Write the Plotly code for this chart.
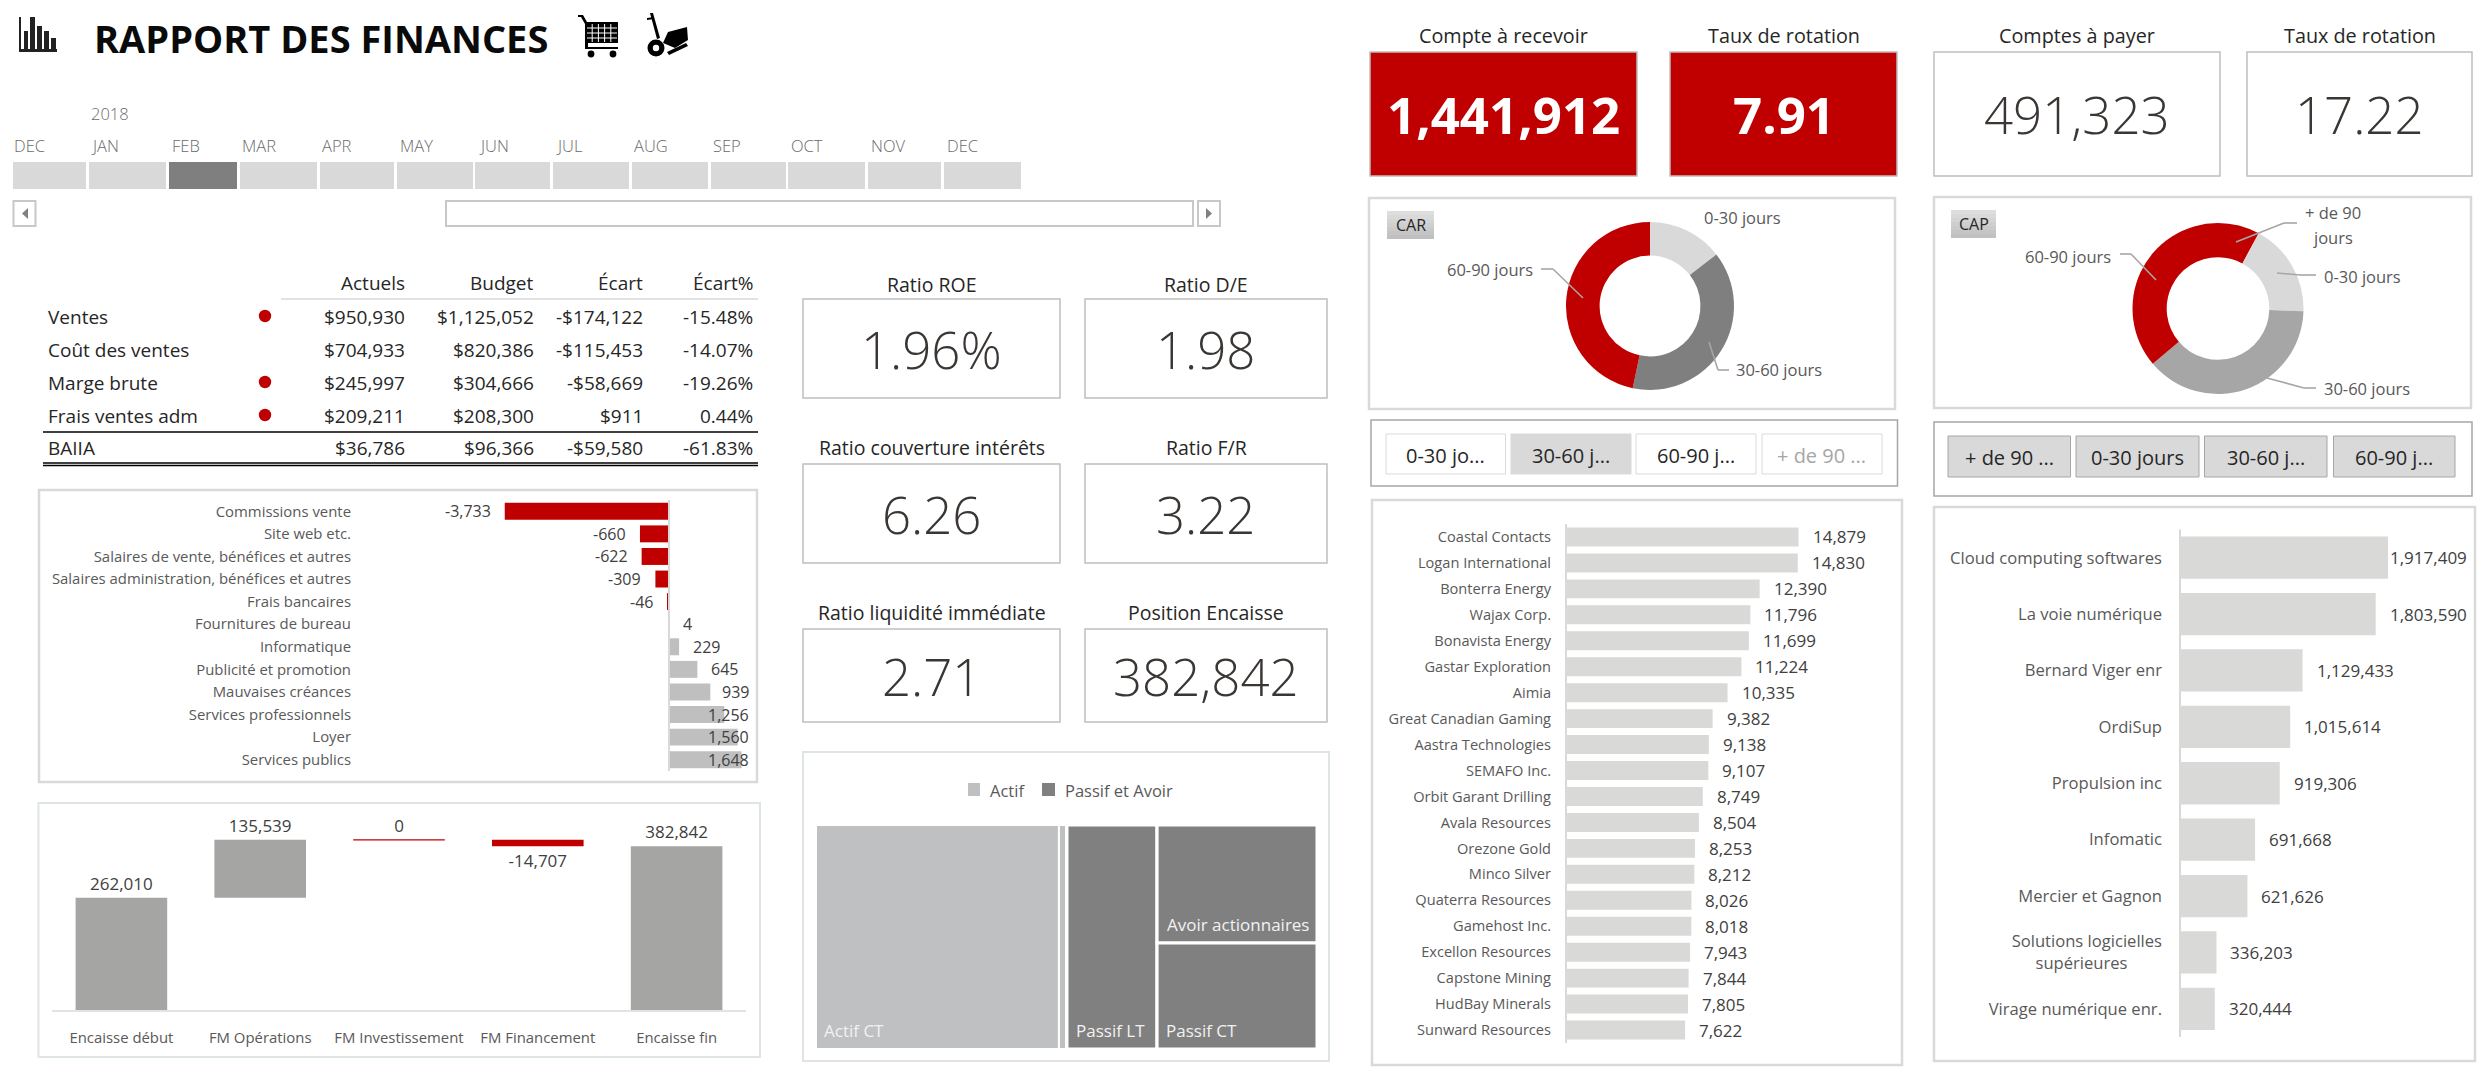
import plotly.graph_objects as go

W, H = 2492, 1080
FONT = "Open Sans"
RED = "#c00000"

# ------------------ data ------------------
months = ["DEC", "JAN", "FEB", "MAR", "APR", "MAY", "JUN", "JUL", "AUG", "SEP", "OCT", "NOV", "DEC"]
selected_month = 2
table_rows = ["Ventes", "Coût des ventes", "Marge brute", "Frais ventes adm", "BAIIA"]
table_actual = [950930, 704933, 245997, 209211, 36786]
table_budget = [1125052, 820386, 304666, 208300, 96366]
table_gap = [-174122, -115453, -58669, 911, -59580]
table_gap_pct = [-15.48, -14.07, -19.26, 0.44, -61.83]
table_flag = [True, False, True, True, False]

cost_cats = ["Commissions vente", "Site web etc.", "Salaires de vente, bénéfices et autres",
             "Salaires administration, bénéfices et autres", "Frais bancaires", "Fournitures de bureau",
             "Informatique", "Publicité et promotion", "Mauvaises créances", "Services professionnels",
             "Loyer", "Services publics"]
cost_vals = [-3733, -660, -622, -309, -46, 4, 229, 645, 939, 1256, 1560, 1648]

flow_cats = ["Encaisse début", "FM Opérations", "FM Investissement", "FM Financement", "Encaisse fin"]
flow_vals = [262010, 135539, 0, -14707, 382842]
flow_base = [0, 262010, 397549, 397549, 0]

ratio_titles = ["Ratio ROE", "Ratio D/E", "Ratio couverture intérêts", "Ratio F/R",
                "Ratio liquidité immédiate", "Position Encaisse"]
ratio_values = ["1.96%", "1.98", "6.26", "3.22", "2.71", "382,842"]

kpi_titles = ["Compte à recevoir", "Taux de rotation", "Comptes à payer", "Taux de rotation"]
kpi_values = ["1,441,912", "7.91", "491,323", "17.22"]
kpi_alert = [True, True, False, False]

car_labels = ["0-30 jours", "30-60 jours", "60-90 jours"]
car_vals = [14.5, 38.8, 46.7]
car_colors = ["#d9d9d9", "#7f7f7f", RED]
cap_labels = ["+ de 90 jours", "0-30 jours", "30-60 jours", "60-90 jours"]
cap_vals = [7.9, 17.6, 38.3, 36.2]
cap_colors = [RED, "#d9d9d9", "#a6a6a6", RED]

car_buttons = ["0-30 jo...", "30-60 j...", "60-90 j...", "+ de 90 ..."]
cap_buttons = ["+ de 90 ...", "0-30 jours", "30-60 j...", "60-90 j..."]

client_cats = ["Coastal Contacts", "Logan International", "Bonterra Energy", "Wajax Corp.", "Bonavista Energy",
               "Gastar Exploration", "Aimia", "Great Canadian Gaming", "Aastra Technologies", "SEMAFO Inc.",
               "Orbit Garant Drilling", "Avala Resources", "Orezone Gold", "Minco Silver", "Quaterra Resources",
               "Gamehost Inc.", "Excellon Resources", "Capstone Mining", "HudBay Minerals", "Sunward Resources"]
client_vals = [14879, 14830, 12390, 11796, 11699, 11224, 10335, 9382, 9138, 9107,
               8749, 8504, 8253, 8212, 8026, 8018, 7943, 7844, 7805, 7622]

supplier_cats = ["Cloud computing softwares", "La voie numérique", "Bernard Viger enr", "OrdiSup", "Propulsion inc",
                 "Infomatic", "Mercier et Gagnon", "Solutions logicielles supérieures", "Virage numérique enr."]
supplier_vals = [1917409, 1803590, 1129433, 1015614, 919306, 691668, 621626, 336203, 320444]

assets_labels = ["Actif", "Actif CT", "Actif LT"]
assets_parents = ["", "Actif", "Actif"]
assets_vals = [248, 241, 7]
liab_labels = ["Passif et Avoir", "Passif LT", "Avoir et passif CT", "Avoir actionnaires", "Passif CT"]
liab_parents = ["", "Passif et Avoir", "Passif et Avoir", "Avoir et passif CT", "Avoir et passif CT"]
liab_vals = [54834, 19758, 35076, 18486, 16590]

# ------------------ helpers ------------------
shapes, annots = [], []
px = lambda x: x / W
py = lambda y: 1 - y / H
domx = lambda a, b: [px(a), px(b)]
domy = lambda a, b: [py(b), py(a)]


def rect(x0, y0, x1, y1, fill="rgba(0,0,0,0)", line=None, lw=0, layer="below"):
    shapes.append(dict(type="rect", xref="paper", yref="paper", x0=px(x0), x1=px(x1), y0=py(y1), y1=py(y0),
                       fillcolor=fill, line=dict(color=line or "rgba(0,0,0,0)", width=lw), layer=layer))


def seg(x0, y0, x1, y1, color="#000000", lw=1, layer="below"):
    shapes.append(dict(type="line", xref="paper", yref="paper", x0=px(x0), x1=px(x1), y0=py(y0), y1=py(y1),
                       line=dict(color=color, width=lw), layer=layer))


def disc(cx, cy, r, fill, layer="below"):
    shapes.append(dict(type="circle", xref="paper", yref="paper", x0=px(cx - r), x1=px(cx + r), y0=py(cy + r),
                       y1=py(cy - r), fillcolor=fill, line=dict(width=0), layer=layer))


def poly(points, fill="#000000"):
    d = "M " + " L ".join(f"{px(x):.5f},{py(y):.5f}" for x, y in points) + " Z"
    shapes.append(dict(type="path", xref="paper", yref="paper", path=d, fillcolor=fill, line=dict(width=0), layer="below"))


def leader(pts):
    for a, b in zip(pts, pts[1:]):
        seg(a[0], a[1], b[0], b[1], "#a6a6a6", 1.6, "above")


def txt(x, y, s, size=16, color="#262626", anchor="center", weight=None, family=FONT):
    f = dict(family=family, size=size, color=color)
    if weight:
        f["weight"] = weight
    annots.append(dict(xref="paper", yref="paper", x=px(x), y=py(y), text=s, showarrow=False, xanchor=anchor,
                       yanchor="middle", font=f, borderpad=0, borderwidth=0))


def money(v):
    return ("-" if v < 0 else "") + "$" + f"{abs(v):,}"


fig = go.Figure()

# ------------------ header ------------------
txt(94, 38, "RAPPORT DES FINANCES", 38, "#0a0a0a", "left", 700)
# bar chart icon
rect(19, 49, 57, 52, "#222222")
rect(19, 17, 21, 52, "#222222")
for x0, x1, top in [(24, 28, 31), (30, 35, 17), (37, 42, 26), (44, 49, 31), (51, 56, 38)]:
    rect(x0, y0=top, x1=x1, y1=49, fill="#222222")
# shopping cart icon
poly([(578, 15), (583, 15), (587, 22), (618, 22), (618, 43), (588, 43), (588, 47), (618, 47), (618, 49), (585, 49), (585, 24), (581, 17), (578, 17)])
for i in range(1, 5):
    seg(586 + i * 6.2, 24, 586 + i * 6.2, 42, "#ffffff", 1)
for y in (28, 33, 38):
    seg(587, y, 617, y, "#ffffff", 1)
disc(591, 54, 3.4, "#000000")
disc(613, 54, 3.4, "#000000")
# hand truck icon
poly([(650, 13), (653, 13), (660, 38), (657, 39)])
poly([(647, 18), (654, 17), (654, 19), (647, 20)])
poly([(668, 32), (687, 27), (688, 40), (675, 48), (663, 43)])
poly([(667, 52), (686, 43), (688, 46), (669, 55)])
disc(656, 48, 8.5, "#000000")
disc(656, 48, 3.2, "#ffffff")

# ------------------ timeline ------------------
tile_edges = [(13, 86), (89, 166), (169, 237), (240, 317), (320, 394), (397, 473), (475, 550),
              (553, 629), (632, 708), (711, 786), (788, 865), (868, 941), (944, 1021)]
label_x = [14, 91, 172, 242, 322, 400, 479, 556, 634, 713, 791, 871, 947]
TL = "#6a6a6a"
txt(91, 113, "2018", 16.5, TL, "left", 300)
for i, (m, e, lx) in enumerate(zip(months, tile_edges, label_x)):
    txt(lx, 145, m, 16.5, TL, "left", 300)
    rect(e[0], 162, e[1], 189, "#7f7f7f" if i == selected_month else "#d9d9d9")
rect(13.5, 201, 35.5, 226, "#ffffff", "#c8c8c8", 2)
poly([(28, 208), (28, 219), (22, 213.5)], "#808080")
rect(446, 201, 1193, 226, "#ffffff", "#c8c8c8", 2)
rect(1198, 201, 1220, 226, "#ffffff", "#c8c8c8", 2)
poly([(1206, 208), (1206, 219), (1212, 213.5)], "#808080")

# ------------------ table ------------------
col_right = [405, 534, 643, 753]
for x, h in zip(col_right, ["Actuels", "Budget", "Écart", "Écart%"]):
    txt(x, 283, h, 19, anchor="right")
seg(281, 299, 758, 299, "#d9d9d9", 1.5)
row_y = [317, 350, 383, 416, 448]
for i, y in enumerate(row_y):
    txt(48, y, table_rows[i], 19, anchor="left")
    txt(col_right[0], y, money(table_actual[i]), 19, anchor="right")
    txt(col_right[1], y, money(table_budget[i]), 19, anchor="right")
    txt(col_right[2], y, money(table_gap[i]), 19, anchor="right")
    txt(col_right[3], y, f"{table_gap_pct[i]:.2f}%", 19, anchor="right")
    if table_flag[i]:
        disc(265, y - 1, 6.2, RED)
seg(43, 432, 758, 432, "#000000", 1.3)
seg(43, 463, 758, 463, "#000000", 1.3)
seg(43, 465.5, 758, 465.5, "#000000", 1.3)

# ------------------ panels ------------------
PANEL = "#d9d9d9"
PALE = "#dfe6df"
rect(39, 490, 757, 782, "#ffffff", PANEL, 2.5)
rect(38.5, 803, 760, 1057, "#ffffff", PALE, 2)
rect(803, 752, 1329, 1061, "#ffffff", PALE, 2)
rect(1369, 198, 1895, 409, "#ffffff", PANEL, 2.5)
rect(1934, 197, 2471, 408, "#ffffff", PANEL, 2.5)
rect(1371, 420, 1897.5, 486, "#ffffff", "#a6a6a6", 1.5)
rect(1934, 422, 2472, 496, "#ffffff", "#a6a6a6", 1.5)
rect(1372, 500, 1902, 1065, "#ffffff", PANEL, 2.5)
rect(1934, 507, 2475, 1061, "#ffffff", PANEL, 2.5)

# ------------------ KPI cards ------------------
VAL = "#3a3633"
ratio_cards = [(803, 1060, 299, 398), (1085, 1327, 299, 398), (803, 1060, 464, 563),
               (1085, 1327, 464, 563), (803, 1060, 629, 722), (1085, 1327, 629, 722)]
ratio_title_y = [284, 284, 448, 448, 613, 613]
for (x0, x1, y0, y1), t, v, ty in zip(ratio_cards, ratio_titles, ratio_values, ratio_title_y):
    rect(x0, y0, x1, y1, "#ffffff", "#bfbfbf", 1.5)
    txt((x0 + x1) / 2, ty, t, 19.5)
    txt((x0 + x1) / 2, (y0 + y1) / 2, v, 51, VAL, weight=300)

kpi_cards = [(1370, 1637), (1670, 1897), (1934, 2220), (2247, 2472)]
for (x0, x1), t, v, alert in zip(kpi_cards, kpi_titles, kpi_values, kpi_alert):
    rect(x0, 52, x1, 176, RED if alert else "#ffffff", "#bfbfbf", 1.5)
    txt((x0 + x1) / 2, 36, t, 19.8)
    txt((x0 + x1) / 2, 114, v, 51, "#ffffff" if alert else VAL, weight=700 if alert else 300)

# ------------------ cost variance bars ------------------
cost_left, cost_right, cost_zero, cost_scale = 352, 752, 669, 0.044
fig.add_trace(go.Bar(x=cost_vals, y=cost_cats, orientation="h", width=0.75,
                     marker=dict(color=[RED if v < 0 else "#bfbfbf" for v in cost_vals], line=dict(width=0)),
                     showlegend=False, xaxis="x", yaxis="y"))
clamped = {"Mauvaises créances", "Services professionnels", "Loyer", "Services publics"}
lab_font = dict(family=FONT, size=17, color="#404040")
cost_font = dict(family=FONT, size=16, color="#404040")
for c, v in zip(cost_cats, cost_vals):
    a = dict(yref="y", y=c, text=f"{v:,}", showarrow=False, font=cost_font, yanchor="middle", borderpad=0)
    if c in clamped:
        a.update(xref="paper", x=px(750), xanchor="right")
    elif v < 0:
        a.update(xref="x", x=v, xanchor="right", xshift=-13)
    else:
        a.update(xref="x", x=v, xanchor="left", xshift=13)
    annots.append(a)
shapes.append(dict(type="line", xref="x", x0=0, x1=0, yref="y domain", y0=0, y1=1,
                   line=dict(color="#d9d9d9", width=2), layer="above"))

# ------------------ cash flow bars ------------------
fig.add_trace(go.Bar(x=flow_cats, y=flow_vals, base=flow_base, width=0.66,
                     marker=dict(color=[RED if (v < 0 or v == 0) else "#a5a5a3" for v in flow_vals],
                                 line=dict(width=[0, 0, 1.2, 0, 0], color=RED)),
                     text=[f"{v:,}" for v in flow_vals], textposition="outside", cliponaxis=False,
                     textfont=dict(family=FONT, size=17, color="#404040"),
                     showlegend=False, xaxis="x2", yaxis="y2"))

# ------------------ donuts ------------------
fig.add_trace(go.Pie(values=car_vals, labels=car_labels, hole=0.6, sort=False, direction="clockwise", rotation=0,
                     marker=dict(colors=car_colors, line=dict(width=0)), textinfo="none", showlegend=False,
                     domain=dict(x=domx(1566, 1734), y=domy(222, 390))))
fig.add_trace(go.Pie(values=cap_vals, labels=cap_labels, hole=0.6, sort=False, direction="clockwise", rotation=0,
                     marker=dict(colors=cap_colors, line=dict(width=0)), textinfo="none", showlegend=False,
                     domain=dict(x=domx(2132.5, 2303.5), y=domy(223, 394))))
DL = "#595959"
DLS = 16.5
txt(1742, 218, car_labels[0], DLS, DL)
txt(1490, 269, car_labels[2], DLS, DL)
txt(1779, 370, car_labels[1], DLS, DL)
leader([(1541, 269), (1553, 269), (1583, 298)])
leader([(1729, 370), (1718, 370), (1709, 342)])
txt(2333, 212, "+ de 90", DLS, DL)
txt(2333, 237, "jours", DLS, DL)
txt(2068, 257, cap_labels[3], DLS, DL)
txt(2362, 276, cap_labels[1], DLS, DL)
txt(2367, 388, cap_labels[2], DLS, DL)
leader([(2297, 223), (2284, 223), (2236, 242)])
leader([(2120, 254), (2131, 254), (2156, 280)])
leader([(2316, 275), (2300, 275), (2277, 273)])
leader([(2316, 388), (2304, 388), (2267, 378)])

for (x0, y0, x1, y1, name) in [(1387, 211, 1434, 239, "CAR"), (1951, 210, 1996, 238, "CAP")]:
    n = 7
    for i in range(n):
        g = 222 - i * 5
        rect(x0, y0 + (y1 - y0) * i / n, x1, y0 + (y1 - y0) * (i + 1) / n, f"rgb({g},{g},{g})")
    txt((x0 + x1) / 2, (y0 + y1) / 2, name, 16, "#262626")

# ------------------ slicer buttons ------------------
car_btn_x = [(1386, 1505.5), (1511, 1631), (1636, 1756), (1762, 1882)]
car_btn_fill = ["#ffffff", "#d9d9d9", "#ffffff", "#ffffff"]
car_btn_text = ["#262626", "#262626", "#262626", "#a6a6a6"]
for (x0, x1), s, f, c in zip(car_btn_x, car_buttons, car_btn_fill, car_btn_text):
    rect(x0, 434, x1, 474, f, "#d9d9d9", 1)
    txt((x0 + x1) / 2, 455, s, 20, c)
cap_btn_x = [(1948, 2070.5), (2076, 2199), (2204.5, 2327), (2333.5, 2455)]
for (x0, x1), s in zip(cap_btn_x, cap_buttons):
    rect(x0, 436, x1, 477, "#d9d9d9", "#a6a6a6", 1)
    txt((x0 + x1) / 2, 457, s, 20)

# ------------------ treemap ------------------
txt(990, 790, "Actif", 16.5, DL, "left")
txt(1065, 790, "Passif et Avoir", 16.5, DL, "left")
rect(968, 783, 980, 796, "#bfc0c1")
rect(1042, 783, 1055, 796, "#808080")
fig.add_trace(go.Treemap(labels=assets_labels, parents=assets_parents, values=assets_vals, branchvalues="total",
                         textinfo="none", sort=False, pathbar=dict(visible=False), tiling=dict(packing="dice", pad=0),
                         marker=dict(colors=["#ffffff", "#bfc0c1", "#bfc0c1"], line=dict(color="#ffffff", width=2),
                                     pad=dict(t=0, l=0, r=0, b=0)),
                         domain=dict(x=domx(816, 1066), y=domy(825, 1049))))
fig.add_trace(go.Treemap(labels=liab_labels, parents=liab_parents, values=liab_vals, branchvalues="total",
                         textinfo="none", pathbar=dict(visible=False), sort=False,
                         tiling=dict(packing="slice-dice", pad=0),
                         marker=dict(colors=["#ffffff", "#808080", "#ffffff", "#808080", "#808080"],
                                     line=dict(color="#ffffff", width=3), pad=dict(t=0, l=0, r=0, b=0)),
                         domain=dict(x=domx(1067, 1317), y=domy(825, 1049))))
TM = "#f2f2f2"
txt(824, 1030, "Actif CT", 17, TM, "left")
txt(1076, 1030, "Passif LT", 17, TM, "left")
txt(1166, 1030, "Passif CT", 17, TM, "left")
txt(1167, 924, "Avoir actionnaires", 17, TM, "left")

# ------------------ client bars ------------------
cl_left, cl_right, cl_zero, cl_scale = 1552, 1890, 1566, 0.01563
fig.add_trace(go.Bar(x=client_vals, y=client_cats, orientation="h", width=0.73,
                     marker=dict(color="#d9d9d8", line=dict(width=0)), showlegend=False, xaxis="x3", yaxis="y3"))
for c, v in zip(client_cats, client_vals):
    annots.append(dict(xref="x3", yref="y3", x=v, y=c, text=f"{v:,}", showarrow=False, font=lab_font,
                       xanchor="left", xshift=13, yanchor="middle", borderpad=0))
shapes.append(dict(type="line", xref="x3", x0=0, x1=0, yref="y3 domain", y0=0, y1=1,
                   line=dict(color="#d9d9d9", width=2), layer="above"))

# ------------------ supplier bars ------------------
su_left, su_right, su_zero, su_scale = 2163, 2470, 2180, 0.0001085
su_ticks = [c.replace("logicielles ", "logicielles<br>") + ("\u00a0" * 8 if "logicielles" in c else "") for c in supplier_cats]
fig.add_trace(go.Bar(x=supplier_vals, y=supplier_cats, orientation="h", width=0.75,
                     marker=dict(color="#d9d9d8", line=dict(width=0)), showlegend=False, xaxis="x4", yaxis="y4"))
for i, (c, v) in enumerate(zip(supplier_cats, supplier_vals)):
    a = dict(yref="y4", y=c, text=f"{v:,}", showarrow=False, font=lab_font, yanchor="middle", borderpad=0)
    if i == 0:
        a.update(xref="paper", x=px(2467.5), xanchor="right")
    else:
        a.update(xref="x4", x=v, xanchor="left", xshift=13)
    annots.append(a)
shapes.append(dict(type="line", xref="x4", x0=0, x1=0, yref="y4 domain", y0=0, y1=1,
                   line=dict(color="#d9d9d9", width=2), layer="above"))

# ------------------ layout ------------------
def hide_x(dom, rng, anchor):
    return dict(domain=domx(*dom), range=rng, visible=False, anchor=anchor, fixedrange=True)


def cat_y(dom, n, anchor, size, **kw):
    return dict(domain=domy(*dom), type="category", range=[n - 0.5, -0.5], anchor=anchor, showgrid=False,
                showline=False, zeroline=False, ticks="", tickfont=dict(family=FONT, size=size, color="#595959"),
                fixedrange=True, automargin=False, **kw)


flow_bottom, flow_top, flow_scale = 1010, 820, 0.000428
fig.update_layout(
    width=W, height=H, autosize=False, margin=dict(l=0, r=0, t=0, b=0), paper_bgcolor="#ffffff",
    plot_bgcolor="rgba(0,0,0,0)", showlegend=False, font=dict(family=FONT), shapes=shapes, annotations=annots,
    xaxis=hide_x((cost_left, cost_right), [(cost_left - cost_zero) / cost_scale, (cost_right - cost_zero) / cost_scale], "y"),
    yaxis=cat_y((500, 771), len(cost_cats), "x", 14.9),
    xaxis2=dict(domain=domx(52, 746), anchor="y2", showgrid=False, zeroline=False, showline=True, linecolor="#dfe6df",
                linewidth=2, ticks="", ticklabelstandoff=13, tickfont=dict(family=FONT, size=14.9, color="#595959"),
                fixedrange=True, automargin=False),
    yaxis2=dict(domain=domy(flow_top, flow_bottom), range=[0, (flow_bottom - flow_top) / flow_scale], visible=False,
                anchor="x2", fixedrange=True),
    xaxis3=hide_x((cl_left, cl_right), [(cl_left - cl_zero) / cl_scale, (cl_right - cl_zero) / cl_scale], "y3"),
    yaxis3=cat_y((524, 1043), len(client_cats), "x3", 14.6),
    xaxis4=hide_x((su_left, su_right), [(su_left - su_zero) / su_scale, (su_right - su_zero) / su_scale], "y4"),
    yaxis4=cat_y((529.5, 1037), len(supplier_cats), "x4", 16.6, tickmode="array", tickvals=supplier_cats, ticktext=su_ticks),
)

fig.write_html("out.html", config=dict(displayModeBar=False, responsive=False),
               post_script="document.body.style.margin='0';document.body.style.overflow='hidden';")
